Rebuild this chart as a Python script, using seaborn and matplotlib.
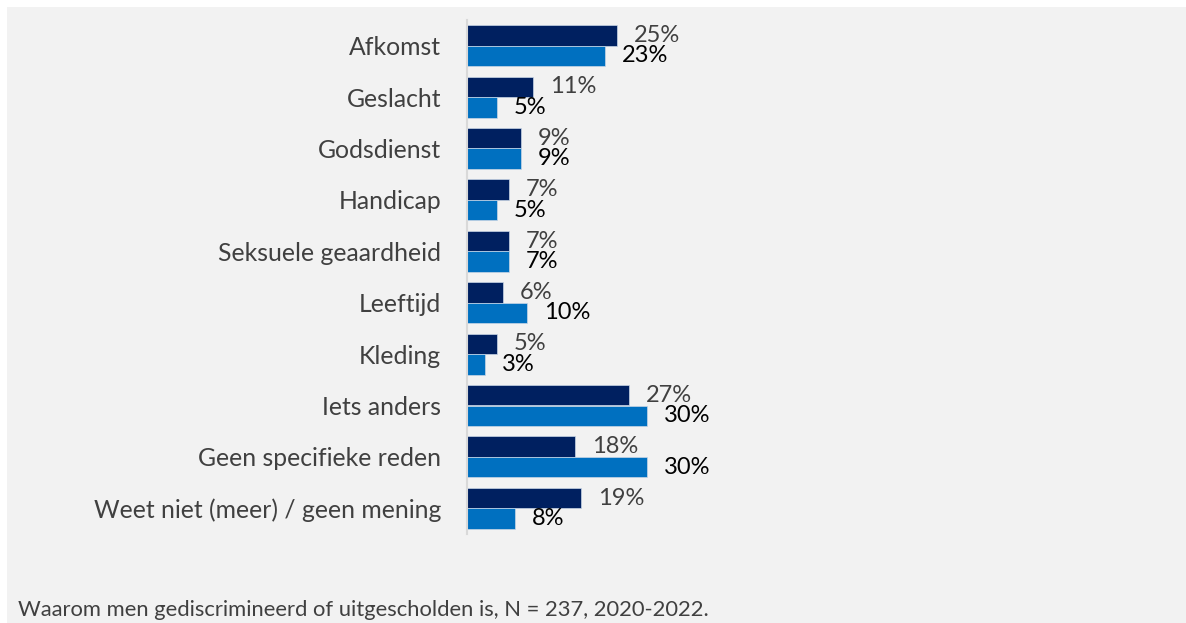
import matplotlib
matplotlib.use("Agg")
import matplotlib.pyplot as plt
import seaborn as sns
import pandas as pd
from matplotlib.patches import Rectangle

categories = ["Afkomst", "Geslacht", "Godsdienst", "Handicap", "Seksuele geaardheid",
              "Leeftijd", "Kleding", "Iets anders", "Geen specifieke reden",
              "Weet niet (meer) / geen mening"]
series_names = ["Reeks 1", "Reeks 2"]
values_dark = [25, 11, 9, 7, 7, 6, 5, 27, 18, 19]
values_blue = [23, 5, 9, 5, 7, 10, 3, 30, 30, 8]
caption = "Waarom men gediscrimineerd of uitgescholden is, N = 237, 2020-2022."

df = pd.DataFrame({
    "categorie": categories * 2,
    "reeks": [series_names[0]] * len(categories) + [series_names[1]] * len(categories),
    "waarde": values_dark + values_blue,
})

sns.set_theme(style="white")
plt.rcParams["font.family"] = ["Lato", "DejaVu Sans"]

W, H = 1186, 623
fig = plt.figure(figsize=(W / 100, H / 100), dpi=100, facecolor="white")
fig.patches.append(Rectangle((7 / W, 0), 1 - 7 / W, 1 - 7 / H, transform=fig.transFigure,
                             facecolor="#f2f2f2", edgecolor="none", zorder=-10))

ax = fig.add_axes([467 / W, 1 - 534 / H, 720 / W, (534 - 20) / H])
ax.set_facecolor("none")

sns.barplot(data=df, y="categorie", x="waarde", hue="reeks", orient="h",
            palette=["#002060", "#0070C0"], saturation=1, width=0.8, dodge=True,
            legend=False, edgecolor="#c9d6e6", linewidth=0.5, ax=ax)

ax.set_xlim(0, 120)
ax.set_ylim(9.5, -0.5)
ax.set_xlabel("")
ax.set_ylabel("")
ax.set_xticks([])
for s in ["top", "right", "bottom"]:
    ax.spines[s].set_visible(False)
ax.spines["left"].set_color("#d9d9d9")
ax.spines["left"].set_linewidth(1.5)
ax.tick_params(axis="y", length=0, pad=18.5, labelsize=17.8, labelcolor="#404040")

ax.bar_label(ax.containers[0], labels=[f"{v}%" for v in values_dark], padding=12,
             fontsize=17, color="#404040")
ax.bar_label(ax.containers[1], labels=[f"{v}%" for v in values_blue], padding=12,
             fontsize=17, color="black")

fig.text(18 / W, 1 - 610 / H, caption, ha="left", va="center", fontsize=15.8,
         color="#404040")

fig.savefig("out.png", dpi=100, facecolor=fig.get_facecolor())
